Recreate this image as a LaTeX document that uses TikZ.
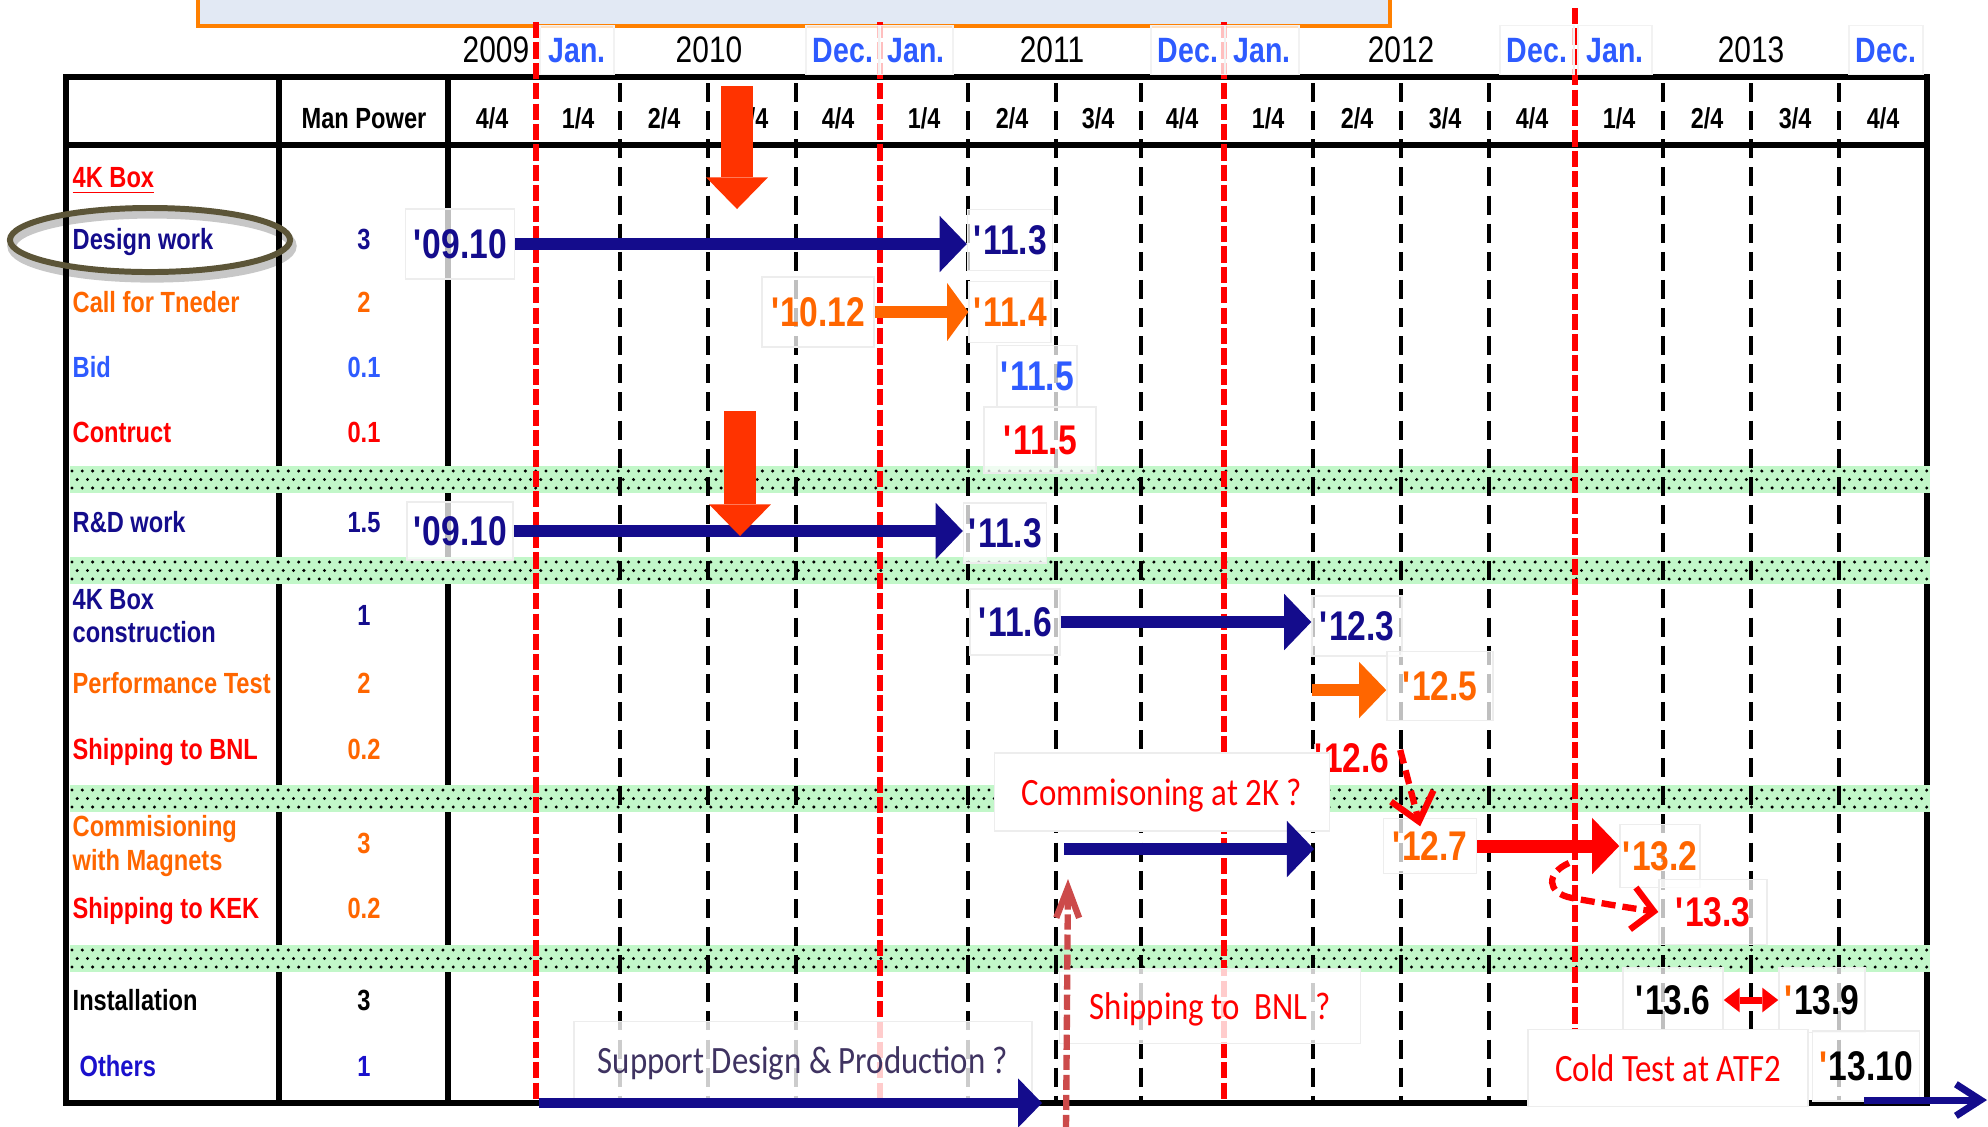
\documentclass[tikz,border=0pt]{standalone}
\usepackage{fontspec}
\setmainfont{Liberation Sans}
\newfontfamily\narrow{Liberation Sans}[FakeStretch=0.81]
\newfontfamily\calib{Carlito}[FakeStretch=0.85]
\usepackage{xcolor}
\usepackage{tikz}
\usetikzlibrary{arrows.meta}
\definecolor{navy}{HTML}{140C8C}
\definecolor{tangerine}{HTML}{FF6600}
\definecolor{azure}{HTML}{2E5BFF}
\definecolor{royal}{HTML}{1A10CC}
\definecolor{flame}{HTML}{FF3300}
\definecolor{mint}{HTML}{C2F7C9}
\definecolor{khaki}{HTML}{5C5538}
\definecolor{titlefill}{HTML}{E2E9F4}
\definecolor{amber}{HTML}{FF8000}
\definecolor{rust}{HTML}{CC4A4A}
\definecolor{plum}{HTML}{3F3361}

\newcommand\ap{\textquotesingle}
\newcommand\labfont{\narrow\bfseries\fontsize{8.3}{10}\selectfont}
\newcommand\datefont{\narrow\bfseries\fontsize{11.8}{13}\selectfont}
\newcommand\notefont{\calib\fontsize{11}{13}\selectfont}

\tikzset{
  frame/.style={line width=1.7pt, line cap=rect},
  qline/.style={line width=0.9pt, dash pattern=on 5.4pt off 2.6pt},
  yline/.style={red, line width=1.6pt, dash pattern=on 4.6pt off 1.2pt},
  bandot/.style={line width=0.95pt, line cap=round, dash pattern=on 0pt off 2.93pt},
  rowlab/.style={anchor=base west, inner sep=0pt, font=\labfont},
  mpow/.style={anchor=base, inner sep=0pt, font=\labfont},
  qlab/.style={anchor=base, inner sep=0pt, font=\narrow\bfseries\fontsize{8.2}{10}\selectfont},
  yearlab/.style={anchor=base, inner sep=0pt, font=\narrow\fontsize{10.5}{12}\selectfont},
  monlab/.style={draw=black!5, fill=white, fill opacity=0.75, text opacity=1, text=azure,
    inner sep=0pt, text depth=0pt, minimum width=21pt, minimum height=14pt,
    font=\narrow\bfseries\fontsize{10}{12}\selectfont},
  datebox/.style={draw=black!7, fill=white, fill opacity=0.75, text opacity=1,
    inner sep=0pt, text depth=0pt, font=\datefont},
  notebox/.style={draw=black!7, fill=white, fill opacity=0.8, text opacity=1,
    inner sep=0pt, text depth=0pt, font=\notefont},
  fat/.style={line width=3.4pt, -{Triangle[length=7.7pt,width=16pt,line width=0pt]}},
  chute/.style={flame, line width=9pt, -{Triangle[length=9pt,width=17.6pt,line width=0pt]}},
  dsh/.style={red, line width=1.8pt, dash pattern=on 4pt off 2pt,
    -{Straight Barb[length=7.5pt,width=12.5pt]}},
}

\begin{document}
\begin{tikzpicture}[x=0.01cm,y=-0.01cm]
\useasboundingbox (0,0) rectangle (1988,1126);
\clip (0,0) rectangle (1988,1126);

% title box, cut by the page top
\draw[amber, line width=1.1pt, fill=titlefill] (198,-30) rectangle (1390,26);

% table frame
\draw[frame] (66,77) -- (1927,77);
\draw[frame] (66,145) -- (1927,145);
\draw[frame] (66,1103) -- (1927,1103);
\foreach \xc in {66,279,448,1927} \draw[frame] (\xc,77) -- (\xc,1103);

% green separator bands
\foreach \by in {466,557,785,945} {
  \fill[mint] (70,\by) rectangle (1930,\by+27);
  \draw[bandot] (72,\by+5) -- (1927,\by+5);
  \draw[bandot, dash phase=1.46pt] (72,\by+13.5) -- (1927,\by+13.5);
  \draw[bandot] (72,\by+22) -- (1927,\by+22);
}

% quarter lines and year lines
\foreach \xq in {620,708,796,968,1056,1141,1313,1401,1489,1663,1751,1839}
  \draw[qline] (\xq,83) -- (\xq,1100);
\foreach \xy in {536,880,1224} \draw[yline] (\xy,22) -- (\xy,1103);
\draw[yline] (1575,8) -- (1575,1103);

% years and months
\node[yearlab] (y09) at (496,62) {2009};
\node[yearlab] (y10) at (709,62) {2010};
\node[yearlab] (y11) at (1052,62) {2011};
\node[yearlab] (y12) at (1401,62) {2012};
\node[yearlab] (y13) at (1751,62) {2013};
\node[monlab] (jan10) at (577,50) {Jan.};
\node[monlab] (dec10) at (843,50) {Dec.};
\node[monlab] (jan11) at (916,50) {Jan.};
\node[monlab] (dec11) at (1188,50) {Dec.};
\node[monlab] (jan12) at (1262,50) {Jan.};
\node[monlab] (dec12) at (1537,50) {Dec.};
\node[monlab] (jan13) at (1615,50) {Jan.};
\node[monlab] (dec13) at (1886,50) {Dec.};

% header row
\node[mpow] (mph) at (364,128) {Man Power};
\foreach \xa/\q in {492/4,578/1,664/2,752/3,838/4,924/1,1012/2,1098/3,1182/4,
    1268/1,1357/2,1445/3,1532/4,1619/1,1707/2,1795/3,1883/4}
  \node[qlab] (q\xa) at (\xa,128) {\q/4};

% task names
\node[rowlab, text=red] (h4k) at (72,187) {\underline{4K Box}};
\node[rowlab, text=navy] (ldw) at (72,249) {Design work};
\node[rowlab, text=tangerine] (lct) at (72,312) {Call for Tneder};
\node[rowlab, text=azure] (lbid) at (72,377) {Bid};
\node[rowlab, text=red] (lcon) at (72,442) {Contruct};
\node[rowlab, text=navy] (lrd) at (72,532) {R\&D work};
\node[rowlab, text=navy] (lbx) at (72,609) {4K Box};
\node[rowlab, text=navy] (lbxb) at (72,642) {construction};
\node[rowlab, text=tangerine] (lpt) at (72,693) {Performance Test};
\node[rowlab, text=red] (lsb) at (72,759) {Shipping to BNL};
\node[rowlab, text=tangerine] (lcm) at (72,836) {Commisioning};
\node[rowlab, text=tangerine] (lcmb) at (72,870) {with Magnets};
\node[rowlab, text=red] (lsk) at (72,918) {Shipping to KEK};
\node[rowlab] (lin) at (72,1010) {Installation};
\node[rowlab, text=royal] (lot) at (79,1076) {Others};

% man power
\node[mpow, text=navy] (mdw) at (364,249) {3};
\node[mpow, text=tangerine] (mct) at (364,312) {2};
\node[mpow, text=azure] (mbid) at (364,377) {0.1};
\node[mpow, text=red] (mcon) at (364,442) {0.1};
\node[mpow, text=navy] (mrd) at (364,532) {1.5};
\node[mpow, text=navy] (mbx) at (364,625) {1};
\node[mpow, text=tangerine] (mpt) at (364,693) {2};
\node[mpow, text=tangerine] (msb) at (364,759) {0.2};
\node[mpow, text=tangerine] (mcm) at (364,853) {3};
\node[mpow, text=tangerine] (msk) at (364,918) {0.2};
\node[mpow] (min) at (364,1010) {3};
\node[mpow, text=royal] (mot) at (364,1076) {1};

% dates
\node[datebox, text=navy, minimum width=31pt, minimum height=19.9pt] (dw0910) at (460,244) {\ap09.10};
\node[datebox, text=navy, minimum width=24.2pt, minimum height=17.4pt] (dw113) at (1010,240) {\ap11.3};
\node[datebox, text=tangerine, minimum width=31.9pt, minimum height=19.9pt] (ct1012) at (818,312) {\ap10.12};
\node[datebox, text=tangerine, minimum width=23.3pt, minimum height=17.4pt] (ct114) at (1010,312) {\ap11.4};
\node[datebox, text=azure, minimum width=22.8pt, minimum height=17.4pt] (bd115) at (1037,376) {\ap11.5};
\node[datebox, text=red, minimum width=31.9pt, minimum height=18.8pt] (cn115) at (1040,440) {\ap11.5};
\node[datebox, text=navy, minimum width=30.2pt, minimum height=16.5pt] (rd0910) at (460,531) {\ap09.10};
\node[datebox, text=navy, minimum width=23.6pt, minimum height=17.1pt] (rd113) at (1005,533) {\ap11.3};
\node[datebox, text=navy, minimum width=25.6pt, minimum height=18.8pt] (bx116) at (1015,622) {\ap11.6};
\node[datebox, text=navy, minimum width=25.6pt, minimum height=17.1pt] (bx123) at (1357,626) {\ap12.3};
\node[datebox, text=tangerine, minimum width=30.2pt, minimum height=19.6pt] (pt125) at (1440,686) {\ap12.5};
\node[datebox, draw=none, text=red] (sb126) at (1352,758) {\ap12.6};
\node[datebox, text=tangerine, minimum width=26.5pt, minimum height=15.6pt] (cm127) at (1430,846) {\ap12.7};
\node[datebox, text=tangerine, minimum width=22.8pt, minimum height=17.9pt] (cm132) at (1660,856) {\ap13.2};
\node[datebox, text=red, minimum width=30.7pt, minimum height=18.5pt] (cm133) at (1713,912) {\ap13.3};
\node[datebox, minimum width=28.5pt, minimum height=18.5pt] (in136) at (1673,1000) {\ap13.6};
\node[datebox, minimum width=24.5pt, minimum height=18.5pt] (in139) at (1822,1000) {{\color{tangerine}\ap}13.9};
\node[datebox, minimum width=30.4pt, minimum height=19.9pt] (ot1310) at (1866,1066) {{\color{tangerine}\ap}13.10};

% notes
\node[notebox, fill opacity=1, text=red, minimum width=95.3pt, minimum height=22.2pt] (n2k) at (1162,792) {Commisoning at 2K ?};
\node[notebox, text=red, minimum width=85.6pt, minimum height=21.3pt] (nbnl) at (1210,1006) {Shipping to\ \ BNL ?};
\node[notebox, text=plum, minimum width=130.3pt, minimum height=21.9pt] (nsup) at (803,1060) {Support Design \& Production ?};
\node[notebox, fill opacity=1, text=red, minimum width=79.7pt, minimum height=21.9pt] (ncold) at (1668,1068) {Cold Test at ATF2};

% free ends
\coordinate (ra1) at (737,86);
\coordinate (ra1b) at (737,209);
\coordinate (ra2) at (740,411);
\coordinate (ra2b) at (740,536);
\coordinate (pt0) at (1312,690);
\coordinate (cm0) at (1064,849);
\coordinate (cm1) at (1314,849);
\coordinate (lp) at (1569,863);
\coordinate (sh0) at (1066,1130);
\coordinate (sh1) at (1068,879);
\coordinate (sp0) at (539,1103);
\coordinate (sp1) at (1042,1103);
\coordinate (oa0) at (1864,1100);
\coordinate (oa1) at (1987,1100);

% schedule arrows
\draw[fat, navy] (dw0910.east) -- (dw0910.east -| dw113.west);
\draw[fat, tangerine, -{Triangle[length=6pt,width=16.4pt,line width=0pt]}] (ct1012.east) -- (ct1012.east -| ct114.west);
\draw[fat, navy] (rd0910.east) -- (rd0910.east -| rd113.west);
\draw[fat, navy] (bx116.east) -- (bx116.east -| bx123.west);
\draw[fat, tangerine] (pt0) -- (pt0 -| pt125.west);
\draw[fat, navy] (cm0) -- (cm1);
\draw[fat, red, line width=3.7pt] (cm127.east) -- (cm127.east -| cm132.west);
\draw[fat, navy, line width=2.8pt, -{Triangle[length=6.8pt,width=14pt,line width=0pt]}] (sp0) -- (sp1);
\draw[chute] (ra1) -- (ra1b);
\draw[chute] (ra2) -- (ra2b);
\draw[dsh] ([shift={(2.8pt,2.3pt)}]sb126.east) -- ([shift={(-2.8pt,-2.4pt)}]cm127.north);
\draw[dsh, -{Straight Barb[length=6pt,width=12pt]}] (lp) .. controls (1546,873) and (1546,893) .. (1572,898)
  .. controls (1600,903) and (1630,908) .. (cm133.west);
\draw[rust, line width=1.8pt, dash pattern=on 4.3pt off 1.4pt, -{Straight Barb[length=8.5pt,width=6.5pt]}] (sh0) -- (sh1);
\draw[red, line width=2pt, {Triangle[length=4.5pt,width=7pt,line width=0pt]}-{Triangle[length=4.5pt,width=7pt,line width=0pt]}] (in136.east) -- (in139.west);
\draw[navy, line width=2pt, -{Straight Barb[length=7pt,width=9pt]}] (oa0) -- (oa1);

% ring round Design work
\draw[black, opacity=0.22, line width=2.6pt] (152,246) ellipse [x radius=1.4cm, y radius=0.32cm];
\draw[khaki, line width=1.7pt] (150,240) ellipse [x radius=1.4cm, y radius=0.32cm];
\end{tikzpicture}
\end{document}
